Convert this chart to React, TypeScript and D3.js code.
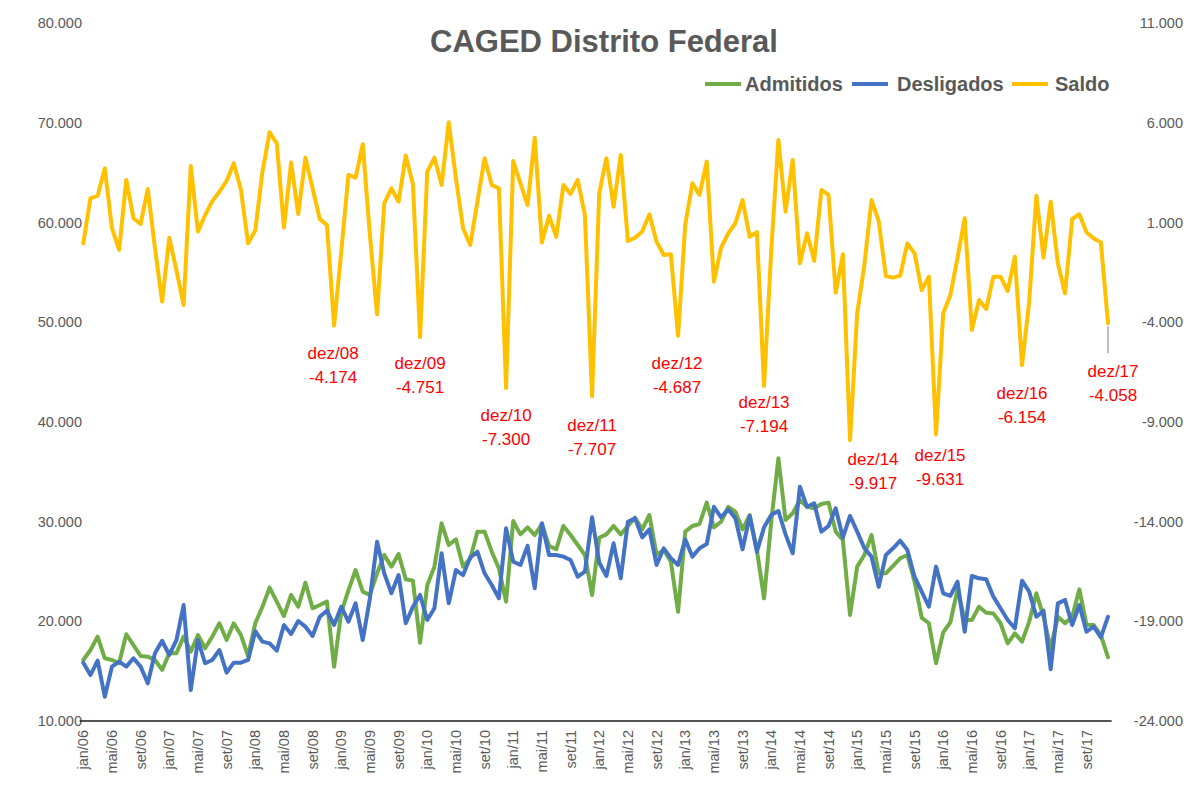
import * as d3 from "d3";

const MONTHS = ["jan", "fev", "mar", "abr", "mai", "jun", "jul", "ago", "set", "out", "nov", "dez"];
const YEARS = ["06", "07", "08", "09", "10", "11", "12", "13", "14", "15", "16", "17"];
const CATEGORIES = YEARS.flatMap((y) => MONTHS.map((m) => `${m}/${y}`));

// monthly values, jan/06 .. dez/17
const ADMITIDOS = [
  16120, 17120, 18460, 16290, 16120, 15790, 18700, 17620, 16520, 16450, 16120, 15120,
  16790, 16790, 18460, 16950, 18620, 17290, 18460, 19800, 18120, 19800, 18620, 16520,
  19800, 21460, 23370, 21970, 20530, 22640, 21460, 23870, 21300, 21630, 21970, 15450,
  20900, 23100, 25140, 22970, 22640, 24810, 26650, 25480, 26750, 24210, 24070, 17850,
  23600, 25480, 29830, 27650, 28220, 25480, 26300, 28990, 28990, 26980, 25310, 21970,
  30060, 28720, 29420, 28650, 29760, 27560, 27220, 29560, 28650, 27650, 26650, 22640,
  28380, 28720, 29560, 28720, 29560, 30390, 29220, 30660, 26650, 27150, 25980, 20960,
  28990, 29560, 29760, 31900, 29420, 29980, 31480, 30980, 29220, 30660, 27150, 22300,
  29980, 36340, 30160, 30830, 32160, 31480, 31330, 31760, 31900, 28990, 28150, 20630,
  25480, 26650, 28650, 24810, 24810, 25550, 26320, 26650, 23970, 20360, 19800, 15790,
  18890, 19900, 23200, 20130, 20130, 21460, 20860, 20790, 19800, 17790, 18790, 17960,
  19960, 22810, 20460, 17300, 20460, 19800, 20460, 23200, 19630, 19630, 18620, 16390,
];

const DESLIGADOS = [
  15850, 14610, 16050, 12440, 15450, 15950, 15450, 16290, 15450, 13780, 16790, 18050,
  16620, 18120, 21630, 13110, 18120, 15790, 16120, 17120, 14850, 15850, 15850, 16120,
  19000, 17960, 17790, 17050, 19630, 18730, 20030, 19460, 18530, 20460, 21060, 19630,
  21460, 19960, 21800, 18120, 22300, 27980, 24810, 22810, 24640, 19800, 21460, 22640,
  20130, 21300, 26820, 21800, 25140, 24640, 26400, 26980, 24810, 23640, 22300, 29320,
  25980, 25650, 27560, 23310, 29830, 26650, 26650, 26480, 26150, 24470, 24970, 30430,
  25900, 24540, 27820, 24310, 29980, 30330, 28420, 29220, 25650, 27320, 26320, 25650,
  28220, 26480, 27320, 27750, 31480, 30430, 31230, 30330, 27220, 30560, 26980, 29420,
  30660, 31060, 28720, 26820, 33500, 31480, 31830, 28990, 29560, 31330, 28380, 30560,
  28990, 27320, 26480, 23470, 26650, 27320, 28080, 27150, 24470, 22970, 21460, 25480,
  22810, 22550, 23970, 18960, 24540, 24310, 24210, 22470, 21300, 20130, 19300, 24070,
  22970, 20460, 21060, 15190, 21800, 22140, 19630, 21630, 18960, 19460, 18390, 20460,
];

const SALDO = [
  -50, 2210, 2340, 3710, 710, -380, 3130, 1210, 920, 2680, -280, -2970,
  230, -1390, -3140, 3830, 540, 1370, 2070, 2540, 3080, 3970, 2630, -50,
  600, 3540, 5520, 4970, 740, 4010, 1420, 4250, 2710, 1170, 870, -4174,
  -470, 3380, 3240, 4920, 370, -3610, 1960, 2710, 2040, 4350, 2910, -4751,
  3540, 4250, 2880, 6020, 3210, 710, -130, 2040, 4220, 2880, 2710, -7300,
  4080, 2960, 1870, 5250, 0, 1340, 280, 2880, 2430, 3130, 1370, -7707,
  2460, 4220, 1790, 4380, 70, 230, 540, 1410, 30, -630, -600, -4687,
  870, 2960, 2380, 4050, -1970, -270, 450, 960, 2120, 280, 510, -7194,
  -430, 5130, 1540, 4130, -1050, 450, -920, 2630, 2380, -2520, -600, -9917,
  -3560, -1130, 2120, 1070, -1690, -1770, -1670, -50, -550, -2390, -1720, -9631,
  -3560, -2640, -780, 1210, -4390, -2890, -3340, -1720, -1720, -2440, -720, -6154,
  -2970, 2340, -770, 2040, -1050, -2550, 1170, 1410, 510, 200, 0, -4058,
];

const LEFT_TICKS = [10000, 20000, 30000, 40000, 50000, 60000, 70000, 80000];
const RIGHT_TICKS = [-24000, -19000, -14000, -9000, -4000, 1000, 6000, 11000];
const LABELLED = ["dez/08", "dez/09", "dez/10", "dez/11", "dez/12", "dez/13", "dez/14", "dez/15", "dez/16", "dez/17"];
// label placement relative to its point [dx, dy]
const LABEL_OFFSETS = [[-1, 27], [0, 26], [0, 27], [0, 29], [-1, 27], [0, 16], [23, 19], [4, 21], [0, 28], [5, 48]];

const SERIES = [
  { name: "Admitidos", values: ADMITIDOS, color: "#70AD47", axis: "left" },
  { name: "Desligados", values: DESLIGADOS, color: "#4472C4", axis: "left" },
  { name: "Saldo", values: SALDO, color: "#FFC000", axis: "right" },
];

const FONT = "'Liberation Sans', Arial, sans-serif";
const GRAY = "#595959";
const W = 1187, H = 785;
const M = { left: 79.7, right: 1111.6, top: 23, bottom: 721 };

const fmt = d3.formatLocale({ decimal: ",", thousands: ".", grouping: [3], currency: ["R$", ""], minus: "-" }).format(",.0f");

export default function App() {
  const x = d3.scalePoint<string>().domain(CATEGORIES).range([M.left, M.right]).padding(0.5);
  const yL = d3.scaleLinear().domain([10000, 80000]).range([M.bottom, M.top]);
  const yR = d3.scaleLinear().domain([-24000, 11000]).range([M.bottom, M.top]);

  const lineFor = (vals: number[], y: d3.ScaleLinear<number, number>) =>
    d3.line<number>().x((_d, i) => x(CATEGORIES[i]) ?? 0).y((d) => y(d))(vals) ?? "";

  const legend = [
    { name: "Admitidos", color: "#70AD47", x0: 705, tx: 745 },
    { name: "Desligados", color: "#4472C4", x0: 852, tx: 897 },
    { name: "Saldo", color: "#FFC000", x0: 1012, tx: 1055 },
  ];

  return (
    <div style={{ position: "absolute", left: 0, top: 0 }}>
      <svg width={W} height={H} viewBox={`0 0 ${W} ${H}`} style={{ display: "block", background: "#fff" }} fontFamily={FONT}>
        <rect width={W} height={H} fill="#fff" />
        <text x={604} y={52} textAnchor="middle" fontSize={31} fontWeight="bold" fill={GRAY}>CAGED Distrito Federal</text>

        {legend.map((l) => (
          <g key={l.name}>
            <line x1={l.x0} x2={l.x0 + 36} y1={84} y2={84} stroke={l.color} strokeWidth={4} />
            <text x={l.tx} y={84} dy="0.35em" fontSize={20} fontWeight="bold" fill={GRAY}>{l.name}</text>
          </g>
        ))}

        {LEFT_TICKS.map((t) => (
          <text key={t} x={82} y={yL(t)} dy="0.35em" textAnchor="end" fontSize={14.5} fill={GRAY}>{fmt(t)}</text>
        ))}
        {RIGHT_TICKS.map((t) => (
          <text key={t} x={1183} y={yR(t)} dy="0.35em" textAnchor="end" fontSize={14.5} fill={GRAY}>{fmt(t)}</text>
        ))}

        <line x1={M.left} x2={M.right} y1={M.bottom} y2={M.bottom} stroke="#1a1a1a" strokeWidth={1.5} />
        {CATEGORIES.filter((_c, i) => i % 4 === 0).map((c) => (
          <text key={c} transform={`translate(${x(c)},730) rotate(-90)`} dy="0.35em" textAnchor="end" fontSize={14.5} fill={GRAY}>{c}</text>
        ))}

        {SERIES.map((s) => (
          <path key={s.name} d={lineFor(s.values, s.axis === "left" ? yL : yR)} fill="none" stroke={s.color} strokeWidth={4} strokeLinejoin="round" strokeLinecap="round" />
        ))}

        {LABELLED.map((c, k) => {
          const i = CATEGORIES.indexOf(c);
          const px = x(c) ?? 0, py = yR(SALDO[i]);
          const [dx, dy] = LABEL_OFFSETS[k];
          return (
            <g key={c}>
              {dy > 40 && <line x1={px} x2={px} y1={py + 3} y2={py + dy - 18} stroke="#A6A6A6" strokeWidth={1.5} />}
              <text x={px + dx} y={py + dy} dy="0.35em" textAnchor="middle" fontSize={17} fill="#FF0000">{c}</text>
              <text x={px + dx} y={py + dy + 24} dy="0.35em" textAnchor="middle" fontSize={17} fill="#FF0000">{fmt(SALDO[i])}</text>
            </g>
          );
        })}
      </svg>
    </div>
  );
}
